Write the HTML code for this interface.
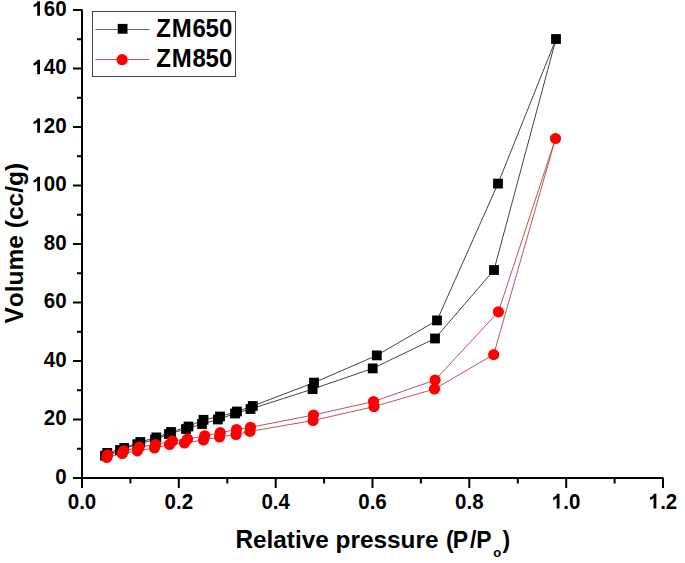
<!DOCTYPE html>
<html><head><meta charset="utf-8"><style>
html,body{margin:0;padding:0;background:#fff;}
body{width:685px;height:563px;overflow:hidden;}
svg{display:block;}
.t text{font-family:"Liberation Sans",sans-serif;font-weight:bold;fill:#000;font-kerning:none;}
.t path{fill:#000;}
</style></head><body>
<svg width="685" height="563" viewBox="0 0 685 563">
<path d="M82.0 9.5V478.0H663.5" fill="none" stroke="#000" stroke-width="2"/>
<path d="M73.0 478.0H82.0M77.0 448.8H82.0M73.0 419.5H82.0M77.0 390.2H82.0M73.0 361.0H82.0M77.0 331.8H82.0M73.0 302.5H82.0M77.0 273.2H82.0M73.0 244.0H82.0M77.0 214.8H82.0M73.0 185.5H82.0M77.0 156.2H82.0M73.0 127.0H82.0M77.0 97.8H82.0M73.0 68.5H82.0M77.0 39.2H82.0M73.0 10.0H82.0M82.0 478.0V488.0M130.4 478.0V483.5M178.8 478.0V488.0M227.3 478.0V483.5M275.7 478.0V488.0M324.1 478.0V483.5M372.5 478.0V488.0M420.9 478.0V483.5M469.3 478.0V488.0M517.8 478.0V483.5M566.2 478.0V488.0M614.6 478.0V483.5M663.0 478.0V488.0" fill="none" stroke="#000" stroke-width="2"/>
<polyline points="105.0,455.7 120.0,450.0 137.3,444.2 155.0,439.5 169.0,434.0 186.0,429.0 202.0,424.0 217.9,419.5 235.0,413.5 250.5,409.0 312.6,389.1 372.7,368.4 435.0,338.5 494.0,270.0 556.0,39.0" fill="none" stroke="#444" stroke-width="1"/>
<polyline points="556.0,39.0 498.0,183.6 437.0,320.4 376.8,355.4 314.0,382.6 252.8,406.0 237.0,411.5 220.0,416.5 203.5,419.8 188.5,426.5 171.0,432.0 156.3,437.4 140.3,442.0 124.2,448.0 107.2,452.9" fill="none" stroke="#444" stroke-width="1"/>
<polyline points="106.7,457.5 122.2,453.5 137.3,450.9 154.5,448.0 169.5,444.5 184.5,443.0 203.5,440.0 219.5,437.0 236.0,434.5 250.0,431.4 313.0,420.5 374.0,406.6 434.5,389.0 493.7,354.6 555.5,138.5" fill="none" stroke="#c4505a" stroke-width="1"/>
<polyline points="555.5,138.5 498.4,311.8 435.1,380.0 373.5,401.5 313.5,415.0 250.5,427.3 236.5,429.5 220.2,432.7 204.7,435.8 187.5,439.0 172.5,441.0 155.5,444.5 139.2,447.2 123.7,450.8 107.7,454.8" fill="none" stroke="#c4505a" stroke-width="1"/>
<rect x="100.1" y="450.8" width="9.8" height="9.8" fill="#000"/>
<rect x="115.1" y="445.1" width="9.8" height="9.8" fill="#000"/>
<rect x="132.4" y="439.3" width="9.8" height="9.8" fill="#000"/>
<rect x="150.1" y="434.6" width="9.8" height="9.8" fill="#000"/>
<rect x="164.1" y="429.1" width="9.8" height="9.8" fill="#000"/>
<rect x="181.1" y="424.1" width="9.8" height="9.8" fill="#000"/>
<rect x="197.1" y="419.1" width="9.8" height="9.8" fill="#000"/>
<rect x="213.0" y="414.6" width="9.8" height="9.8" fill="#000"/>
<rect x="230.1" y="408.6" width="9.8" height="9.8" fill="#000"/>
<rect x="245.6" y="404.1" width="9.8" height="9.8" fill="#000"/>
<rect x="307.7" y="384.2" width="9.8" height="9.8" fill="#000"/>
<rect x="367.8" y="363.5" width="9.8" height="9.8" fill="#000"/>
<rect x="430.1" y="333.6" width="9.8" height="9.8" fill="#000"/>
<rect x="489.1" y="265.1" width="9.8" height="9.8" fill="#000"/>
<rect x="551.1" y="34.1" width="9.8" height="9.8" fill="#000"/>
<rect x="493.1" y="178.7" width="9.8" height="9.8" fill="#000"/>
<rect x="432.1" y="315.5" width="9.8" height="9.8" fill="#000"/>
<rect x="371.9" y="350.5" width="9.8" height="9.8" fill="#000"/>
<rect x="309.1" y="377.7" width="9.8" height="9.8" fill="#000"/>
<rect x="247.9" y="401.1" width="9.8" height="9.8" fill="#000"/>
<rect x="232.1" y="406.6" width="9.8" height="9.8" fill="#000"/>
<rect x="215.1" y="411.6" width="9.8" height="9.8" fill="#000"/>
<rect x="198.6" y="414.9" width="9.8" height="9.8" fill="#000"/>
<rect x="183.6" y="421.6" width="9.8" height="9.8" fill="#000"/>
<rect x="166.1" y="427.1" width="9.8" height="9.8" fill="#000"/>
<rect x="151.4" y="432.5" width="9.8" height="9.8" fill="#000"/>
<rect x="135.4" y="437.1" width="9.8" height="9.8" fill="#000"/>
<rect x="119.3" y="443.1" width="9.8" height="9.8" fill="#000"/>
<rect x="102.3" y="448.0" width="9.8" height="9.8" fill="#000"/>
<circle cx="106.7" cy="457.5" r="5.6" fill="#f00"/>
<circle cx="122.2" cy="453.5" r="5.6" fill="#f00"/>
<circle cx="137.3" cy="450.9" r="5.6" fill="#f00"/>
<circle cx="154.5" cy="448.0" r="5.6" fill="#f00"/>
<circle cx="169.5" cy="444.5" r="5.6" fill="#f00"/>
<circle cx="184.5" cy="443.0" r="5.6" fill="#f00"/>
<circle cx="203.5" cy="440.0" r="5.6" fill="#f00"/>
<circle cx="219.5" cy="437.0" r="5.6" fill="#f00"/>
<circle cx="236.0" cy="434.5" r="5.6" fill="#f00"/>
<circle cx="250.0" cy="431.4" r="5.6" fill="#f00"/>
<circle cx="313.0" cy="420.5" r="5.6" fill="#f00"/>
<circle cx="374.0" cy="406.6" r="5.6" fill="#f00"/>
<circle cx="434.5" cy="389.0" r="5.6" fill="#f00"/>
<circle cx="493.7" cy="354.6" r="5.6" fill="#f00"/>
<circle cx="555.5" cy="138.5" r="5.6" fill="#f00"/>
<circle cx="498.4" cy="311.8" r="5.6" fill="#f00"/>
<circle cx="435.1" cy="380.0" r="5.6" fill="#f00"/>
<circle cx="373.5" cy="401.5" r="5.6" fill="#f00"/>
<circle cx="313.5" cy="415.0" r="5.6" fill="#f00"/>
<circle cx="250.5" cy="427.3" r="5.6" fill="#f00"/>
<circle cx="236.5" cy="429.5" r="5.6" fill="#f00"/>
<circle cx="220.2" cy="432.7" r="5.6" fill="#f00"/>
<circle cx="204.7" cy="435.8" r="5.6" fill="#f00"/>
<circle cx="187.5" cy="439.0" r="5.6" fill="#f00"/>
<circle cx="172.5" cy="441.0" r="5.6" fill="#f00"/>
<circle cx="155.5" cy="444.5" r="5.6" fill="#f00"/>
<circle cx="139.2" cy="447.2" r="5.6" fill="#f00"/>
<circle cx="123.7" cy="450.8" r="5.6" fill="#f00"/>
<circle cx="107.7" cy="454.8" r="5.6" fill="#f00"/>
<rect x="92.5" y="11.5" width="143" height="65" fill="#fff" stroke="#444" stroke-width="1"/>
<path d="M95.5 29.5H149.5" stroke="#666" stroke-width="1"/>
<rect x="117.7" y="23.9" width="9.8" height="9.8" fill="#000"/>
<path d="M95.5 59.5H149.5" stroke="#c4505a" stroke-width="1"/>
<circle cx="122.1" cy="59.7" r="5.6" fill="#f00"/>
<g class="t"><text transform="translate(55.20 483.80) scale(1 1.0405)" style="font-size:20.5px">0</text><text transform="translate(43.80 425.30) scale(1 1.0405)" style="font-size:20.5px">2</text><text transform="translate(55.20 425.30) scale(1 1.0405)" style="font-size:20.5px">0</text><text transform="translate(43.80 366.80) scale(1 1.0405)" style="font-size:20.5px">4</text><text transform="translate(55.20 366.80) scale(1 1.0405)" style="font-size:20.5px">0</text><text transform="translate(43.80 308.30) scale(1 1.0405)" style="font-size:20.5px">6</text><text transform="translate(55.20 308.30) scale(1 1.0405)" style="font-size:20.5px">0</text><text transform="translate(43.80 249.80) scale(1 1.0405)" style="font-size:20.5px">8</text><text transform="translate(55.20 249.80) scale(1 1.0405)" style="font-size:20.5px">0</text><path transform="translate(32.40 191.30) scale(0.010010 -0.010010)" d="M760 0L479 0L479 1059Q325 915 116 846L116 1101Q226 1137 341.5 1227.5Q457 1318 533 1466L760 1466Z"/><text transform="translate(43.80 191.30) scale(1 1.0405)" style="font-size:20.5px">0</text><text transform="translate(55.20 191.30) scale(1 1.0405)" style="font-size:20.5px">0</text><path transform="translate(32.40 132.80) scale(0.010010 -0.010010)" d="M760 0L479 0L479 1059Q325 915 116 846L116 1101Q226 1137 341.5 1227.5Q457 1318 533 1466L760 1466Z"/><text transform="translate(43.80 132.80) scale(1 1.0405)" style="font-size:20.5px">2</text><text transform="translate(55.20 132.80) scale(1 1.0405)" style="font-size:20.5px">0</text><path transform="translate(32.40 74.30) scale(0.010010 -0.010010)" d="M760 0L479 0L479 1059Q325 915 116 846L116 1101Q226 1137 341.5 1227.5Q457 1318 533 1466L760 1466Z"/><text transform="translate(43.80 74.30) scale(1 1.0405)" style="font-size:20.5px">4</text><text transform="translate(55.20 74.30) scale(1 1.0405)" style="font-size:20.5px">0</text><path transform="translate(32.40 15.80) scale(0.010010 -0.010010)" d="M760 0L479 0L479 1059Q325 915 116 846L116 1101Q226 1137 341.5 1227.5Q457 1318 533 1466L760 1466Z"/><text transform="translate(43.80 15.80) scale(1 1.0405)" style="font-size:20.5px">6</text><text transform="translate(55.20 15.80) scale(1 1.0405)" style="font-size:20.5px">0</text><text transform="translate(67.75 508.50) scale(1 1.0405)" style="font-size:20.5px">0</text><text x="79.15" y="508.50" style="font-size:20.5px">.</text><text transform="translate(84.85 508.50) scale(1 1.0405)" style="font-size:20.5px">0</text><text transform="translate(164.58 508.50) scale(1 1.0405)" style="font-size:20.5px">0</text><text x="175.99" y="508.50" style="font-size:20.5px">.</text><text transform="translate(181.68 508.50) scale(1 1.0405)" style="font-size:20.5px">2</text><text transform="translate(261.42 508.50) scale(1 1.0405)" style="font-size:20.5px">0</text><text x="272.82" y="508.50" style="font-size:20.5px">.</text><text transform="translate(278.51 508.50) scale(1 1.0405)" style="font-size:20.5px">4</text><text transform="translate(358.25 508.50) scale(1 1.0405)" style="font-size:20.5px">0</text><text x="369.65" y="508.50" style="font-size:20.5px">.</text><text transform="translate(375.35 508.50) scale(1 1.0405)" style="font-size:20.5px">6</text><text transform="translate(455.08 508.50) scale(1 1.0405)" style="font-size:20.5px">0</text><text x="466.49" y="508.50" style="font-size:20.5px">.</text><text transform="translate(472.18 508.50) scale(1 1.0405)" style="font-size:20.5px">8</text><path transform="translate(551.92 508.50) scale(0.010010 -0.010010)" d="M760 0L479 0L479 1059Q325 915 116 846L116 1101Q226 1137 341.5 1227.5Q457 1318 533 1466L760 1466Z"/><text x="563.32" y="508.50" style="font-size:20.5px">.</text><text transform="translate(569.01 508.50) scale(1 1.0405)" style="font-size:20.5px">0</text><path transform="translate(648.75 508.50) scale(0.010010 -0.010010)" d="M760 0L479 0L479 1059Q325 915 116 846L116 1101Q226 1137 341.5 1227.5Q457 1318 533 1466L760 1466Z"/><text x="660.15" y="508.50" style="font-size:20.5px">.</text><text transform="translate(665.85 508.50) scale(1 1.0405)" style="font-size:20.5px">2</text><text transform="translate(235.40 548.20) scale(1 1.0405)" style="font-size:24.35px">R</text><text x="252.98" y="548.20" style="font-size:24.35px">e</text><text x="266.53" y="548.20" style="font-size:24.35px">l</text><text x="273.29" y="548.20" style="font-size:24.35px">a</text><text x="286.83" y="548.20" style="font-size:24.35px">t</text><text x="294.94" y="548.20" style="font-size:24.35px">i</text><text x="301.71" y="548.20" style="font-size:24.35px">v</text><text x="315.25" y="548.20" style="font-size:24.35px">e</text><text x="335.56" y="548.20" style="font-size:24.35px">p</text><text x="350.43" y="548.20" style="font-size:24.35px">r</text><text x="359.91" y="548.20" style="font-size:24.35px">e</text><text x="373.45" y="548.20" style="font-size:24.35px">s</text><text x="386.99" y="548.20" style="font-size:24.35px">s</text><text x="400.54" y="548.20" style="font-size:24.35px">u</text><text x="415.41" y="548.20" style="font-size:24.35px">r</text><text x="424.89" y="548.20" style="font-size:24.35px">e</text><text x="445.90" y="548.20" style="font-size:23px">(</text><text transform="translate(452.80 548.20) scale(1 1.0405)" style="font-size:23px">P</text><text x="470.00" y="548.20" style="font-size:23px">/</text><text transform="translate(476.20 548.20) scale(1 1.0405)" style="font-size:23px">P</text><text x="493.20" y="556.80" style="font-size:13px">o</text><text x="502.40" y="548.20" style="font-size:23px">)</text><text transform="translate(156.30 36.80) scale(1 1.0405)" style="font-size:24px">Z</text><text transform="translate(171.70 36.80) scale(1 1.0405)" style="font-size:24px">M</text><text transform="translate(192.40 36.80) scale(1 1.0405)" style="font-size:24px">6</text><text transform="translate(205.60 36.80) scale(1 1.0405)" style="font-size:24px">5</text><text transform="translate(219.10 36.80) scale(1 1.0405)" style="font-size:24px">0</text><text transform="translate(156.30 67.30) scale(1 1.0405)" style="font-size:24px">Z</text><text transform="translate(171.70 67.30) scale(1 1.0405)" style="font-size:24px">M</text><text transform="translate(192.40 67.30) scale(1 1.0405)" style="font-size:24px">8</text><text transform="translate(205.60 67.30) scale(1 1.0405)" style="font-size:24px">5</text><text transform="translate(219.10 67.30) scale(1 1.0405)" style="font-size:24px">0</text></g>
<g class="t" transform="translate(23.2 323.5) rotate(-90)"><text transform="translate(0.00 0.00) scale(1 1.0405)" style="font-size:24.5px">V</text><text x="16.34" y="0.00" style="font-size:24.5px">o</text><text x="31.31" y="0.00" style="font-size:24.5px">l</text><text x="38.11" y="0.00" style="font-size:24.5px">u</text><text x="53.08" y="0.00" style="font-size:24.5px">m</text><text x="74.86" y="0.00" style="font-size:24.5px">e</text><text x="95.30" y="0.00" style="font-size:24.5px">(</text><text x="103.46" y="0.00" style="font-size:24.5px">c</text><text x="117.08" y="0.00" style="font-size:24.5px">c</text><text x="130.71" y="0.00" style="font-size:24.5px">/</text><text x="137.51" y="0.00" style="font-size:24.5px">g</text><text x="152.48" y="0.00" style="font-size:24.5px">)</text></g>
</svg>
</body></html>
